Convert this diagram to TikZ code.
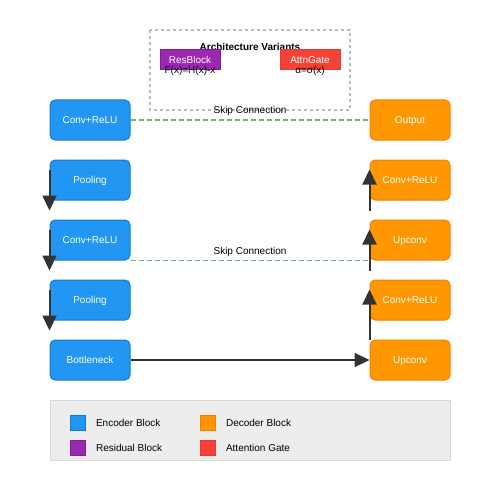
\documentclass[tikz,border=0pt]{standalone}
\usepackage{fontspec}
\setmainfont{Liberation Sans}
\usepackage{xcolor}
\usepackage{tikz}
\usetikzlibrary{positioning,arrows.meta}

\definecolor{encfill}{HTML}{2196F3}
\definecolor{encline}{HTML}{1976D2}
\definecolor{decfill}{HTML}{FF9800}
\definecolor{decline}{HTML}{F57C00}
\definecolor{resfill}{HTML}{9C27B0}
\definecolor{resline}{HTML}{7B1FA2}
\definecolor{attfill}{HTML}{F44336}
\definecolor{attline}{HTML}{E53935}
\definecolor{skipcol}{HTML}{66BB6A}
\definecolor{varcol}{HTML}{B0BEC5}
\definecolor{flowcol}{HTML}{333333}

\begin{document}
\begin{tikzpicture}[x=1pt,y=-1pt,font=\fontsize{10}{12}\selectfont,
  encblock/.style={draw=encline,fill=encfill,line width=1pt,rounded corners=5pt,
    minimum width=80pt,minimum height=40pt,text=white,inner sep=0pt,text depth=0pt},
  decblock/.style={draw=decline,fill=decfill,line width=1pt,rounded corners=5pt,
    minimum width=80pt,minimum height=40pt,text=white,inner sep=0pt,text depth=0pt},
  varblock/.style={line width=1pt,minimum width=60pt,minimum height=20pt,text=white,inner sep=0pt},
  keybox/.style={line width=1pt,minimum size=15pt,inner sep=0pt},
  flow/.style={draw=flowcol,line width=2pt,-{Triangle[width=14pt,length=15pt]}},
  skip/.style={draw=skipcol,line width=1.2pt,dash pattern=on 5pt off 3pt}]
\useasboundingbox (0,0) rectangle (500,500);

% variants box
\draw[varcol,line width=1.5pt,dash pattern=on 3pt off 3pt] (150,30) rectangle (350,110);
\node[font=\fontsize{10}{12}\selectfont\bfseries] (vartitle) at (250,46.5) {Architecture Variants};
\node[varblock,draw=resline,fill=resfill] (res) at (190,60) {ResBlock};
\node[varblock,draw=attline,fill=attfill] (attn) at (310,60) {AttnGate};
\node (resform) at (190,71) {F(x)=H(x)-x};
\node (attnform) at (310,71) {α=σ(x)};

% encoder
\node[encblock] (enc1) at (90,120) {Conv+ReLU};
\node[encblock] (pool1) at (90,180) {Pooling};
\node[encblock] (enc2) at (90,240) {Conv+ReLU};
\node[encblock] (pool2) at (90,300) {Pooling};
\node[encblock] (neck) at (90,360) {Bottleneck};

% decoder
\node[decblock] (out) at (410,120) {Output};
\node[decblock] (dec2) at (410,180) {Conv+ReLU};
\node[decblock] (up2) at (410,240) {Upconv};
\node[decblock] (dec1) at (410,300) {Conv+ReLU};
\node[decblock] (up1) at (410,360) {Upconv};

% skip connections
\draw[skip] (enc1.east) -- node[above=0pt,text=black] (skip1) {Skip Connection} (out.west);
\draw[skip] (enc2.south east) -- node[above=0pt,text=black] (skip2) {Skip Connection} (up2.south west);

% down path
\draw[flow] ([yshift=-10pt]pool1.north west) -- ([yshift=-10pt]pool1.south west);
\draw[flow] ([yshift=-10pt]enc2.north west) -- ([yshift=-10pt]enc2.south west);
\draw[flow] ([yshift=-10pt]pool2.north west) -- ([yshift=-10pt]pool2.south west);
\draw[flow] (neck.east) -- (up1.west);

% up path
\draw[flow] ([yshift=-10pt]dec2.south west) -- ([yshift=-10pt]dec2.north west);
\draw[flow] ([yshift=-10pt]up2.south west) -- ([yshift=-10pt]up2.north west);
\draw[flow] (up1.north west) -- ([yshift=-10pt]dec1.north west);

% legend
\draw[fill=black!7,draw=black!15,line width=1pt] (50,400) rectangle (450,460);
\node[keybox,draw=encline,fill=encfill] (key1) at (77.5,422.5) {};
\node[right=7pt of key1] {Encoder Block};
\node[keybox,draw=decline,fill=decfill] (key2) at (207.5,422.5) {};
\node[right=7pt of key2] {Decoder Block};
\node[keybox,draw=resline,fill=resfill] (key3) at (77.5,447.5) {};
\node[right=7pt of key3] {Residual Block};
\node[keybox,draw=attline,fill=attfill] (key4) at (207.5,447.5) {};
\node[right=7pt of key4] {Attention Gate};
\end{tikzpicture}
\end{document}
